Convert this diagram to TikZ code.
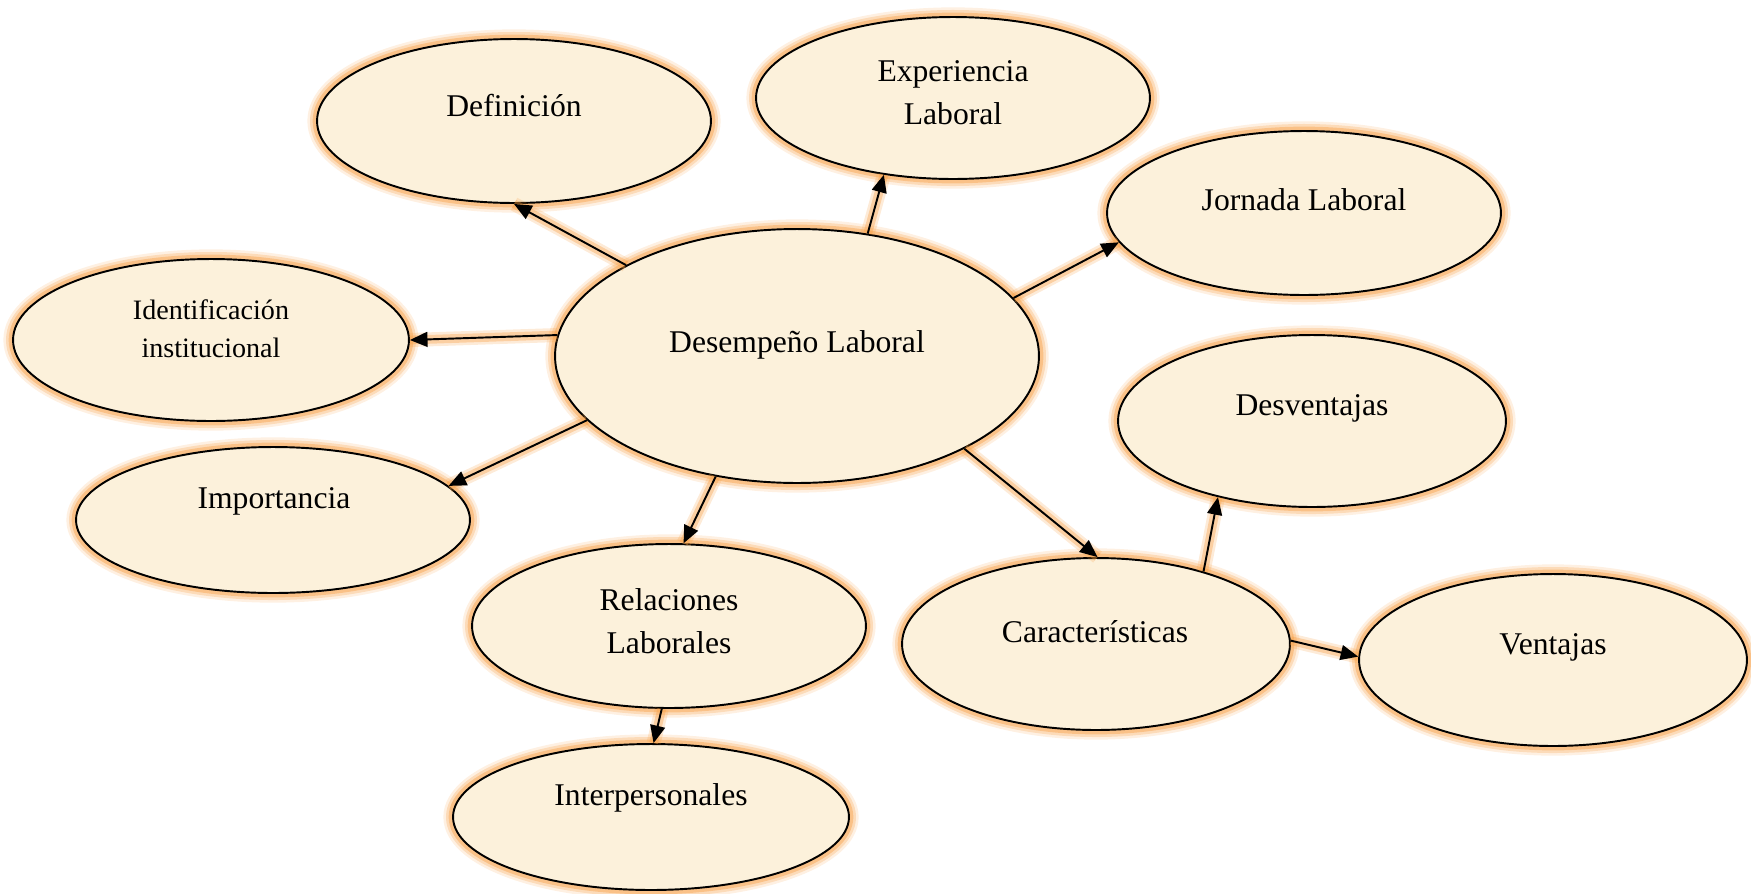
\documentclass[tikz,border=0pt]{standalone}
\usepackage{fontspec}
\setmainfont{Liberation Serif}
\usetikzlibrary{shapes.geometric,arrows.meta}
\definecolor{creamfill}{RGB}{252,241,219}
\definecolor{glowc}{RGB}{247,155,60}
\begin{document}
\begin{tikzpicture}[x=0.02cm,y=-0.02cm,
  halo/.style={
    preaction={draw=glowc,line width=11pt,draw opacity=0.15},
    preaction={draw=glowc,line width=8pt,draw opacity=0.25},
    preaction={draw=glowc,line width=5pt,draw opacity=0.4}},
  bubble/.style={ellipse,halo,draw=black,line width=1.1pt,fill=creamfill,
    inner sep=0pt,minimum width=7.88cm,minimum height=3.28cm},
  label18/.style={font=\fontsize{18}{24.5}\selectfont,align=center,inner sep=0pt},
  label16/.style={font=\fontsize{16}{21.5}\selectfont,align=center,inner sep=0pt},
  link/.style={line width=1.1pt,-{Triangle[length=10pt,width=8.5pt]},
    preaction={draw=glowc,line width=8pt,draw opacity=0.2,arrows=-},
    preaction={draw=glowc,line width=5pt,draw opacity=0.35,arrows=-}}
]
\useasboundingbox (0,0) rectangle (1751,893);

% bubbles
\node[bubble] (def) at (514,121) {};
\node[bubble,minimum height=3.24cm] (exp) at (953,98) {};
\node[bubble] (jor) at (1304,213) {};
\node[bubble,minimum width=7.92cm,minimum height=3.24cm] (ide) at (211,340) {};
\node[bubble,minimum width=9.68cm,minimum height=5.08cm] (dl) at (797,356) {};
\node[bubble,minimum height=2.92cm] (imp) at (273,520) {};
\node[bubble] (rel) at (669,626) {};
\node[bubble,minimum width=7.92cm,minimum height=2.92cm] (int) at (651,817) {};
\node[bubble,minimum width=7.76cm,minimum height=3.44cm] (desv) at (1312,421) {};
\node[bubble,minimum width=7.76cm,minimum height=3.44cm] (car) at (1096,644) {};
\node[bubble,minimum width=7.76cm,minimum height=3.44cm] (ven) at (1553,660) {};

% texts
\node[label18] (tdef) at (514,106) {Definición};
\node[label18] (texp) at (953,93) {Experiencia\\Laboral};
\node[label18] (tjor) at (1304,200) {Jornada Laboral};
\node[label16] (tide) at (211,329) {Identificación\\institucional};
\node[label18] (tdl) at (797,345) {Desempeño Laboral};
\node[label18] (timp) at (274,501) {Importancia};
\node[label18] (trel) at (669,621) {Relaciones\\Laborales};
\node[label18] (tint) at (651,798) {Interpersonales};
\node[label18] (tdesv) at (1312,408) {Desventajas};
\node[label18] (tcar) at (1095,632) {Características};
\node[label18] (tven) at (1553,647) {Ventajas};

% connectors
\draw[link] (dl.152.9) -- (def.270);
\draw[link] (dl.60.75) -- (exp.228.8);
\draw[link] (dl.15.6) -- (jor.189.9);
\draw[link] (dl.175) -- (ide.0.6);
\draw[link] (dl.197.5) -- (imp.11.4);
\draw[link] (dl.236.4) -- (rel.80.3);
\draw[link] (dl.331.9) -- (car.89.3);
\draw[link] (rel.265.8) -- (int.88.4);
\draw[link] (car.34.8) -- (desv.219);
\draw[link] (car.1.2) -- (ven.179.1);
\end{tikzpicture}
\end{document}
